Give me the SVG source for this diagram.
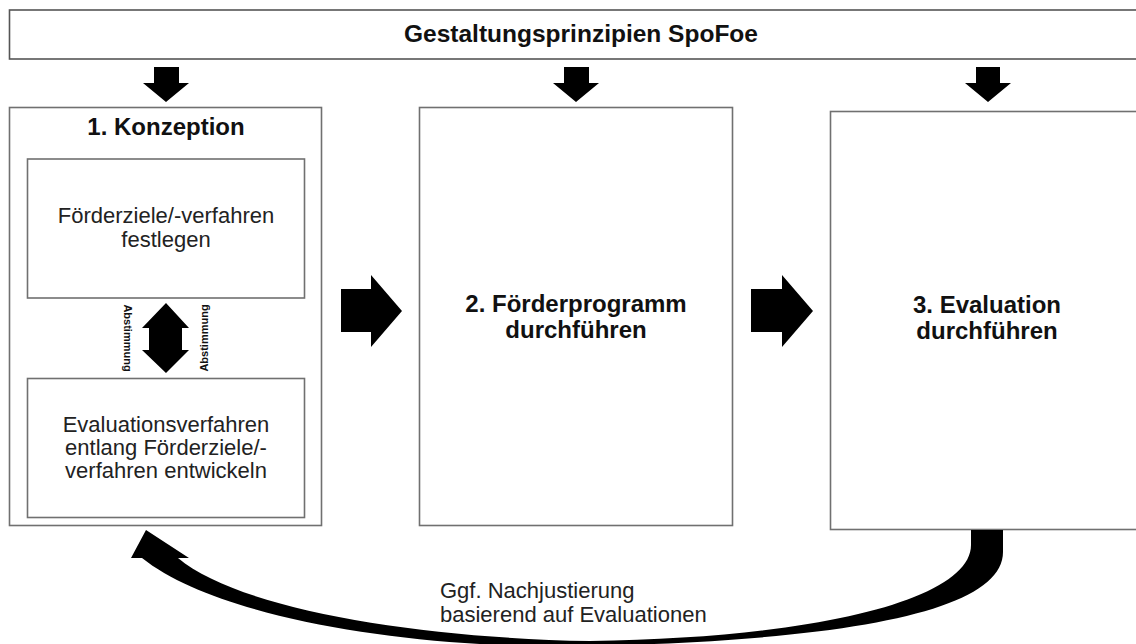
<svg xmlns="http://www.w3.org/2000/svg" width="1136" height="644" viewBox="0 0 1136 644">
<style>
.box{fill:#fff;stroke:#707070;stroke-width:1.6}
.bold{font-family:"Liberation Sans",Arial,sans-serif;font-weight:bold;fill:#111;text-anchor:middle}
.reg{font-family:"Liberation Sans",Arial,sans-serif;fill:#222}
.arr{fill:#000}
</style>
<rect width="1136" height="644" fill="#fff"/>
<g id="header">
<rect class="box" x="9.5" y="10" width="1140" height="49" style="stroke:#555"/>
<text class="bold" x="581" y="42" font-size="24.5">Gestaltungsprinzipien SpoFoe</text>
</g>
<g id="konzeption">
<rect class="box" x="9.5" y="107.5" width="312" height="418"/>
<text class="bold" x="166" y="135" font-size="24">1. Konzeption</text>
</g>
<g id="ziele">
<rect class="box" x="27.5" y="159" width="277" height="139"/>
<text class="reg" font-size="22" text-anchor="middle"><tspan x="166" y="223">Förderziele/-verfahren</tspan><tspan x="166" y="247">festlegen</tspan></text>
</g>
<g id="evalverfahren">
<rect class="box" x="27.5" y="378.5" width="277" height="139"/>
<text class="reg" font-size="22" text-anchor="middle"><tspan x="166" y="432">Evaluationsverfahren</tspan><tspan x="166" y="455">entlang Förderziele/-</tspan><tspan x="166" y="478">verfahren entwickeln</tspan></text>
</g>
<g id="foerderprogramm">
<rect class="box" x="419.5" y="107.5" width="313" height="418"/>
<text class="bold" font-size="24"><tspan x="576" y="312">2. Förderprogramm</tspan><tspan x="576" y="338">durchführen</tspan></text>
</g>
<g id="evaluation">
<rect class="box" x="830.5" y="111.5" width="313" height="418"/>
<text class="bold" font-size="24"><tspan x="987" y="313">3. Evaluation</tspan><tspan x="987" y="339">durchführen</tspan></text>
</g>
<g id="connectors">
<polygon class="arr" points="154,67 179,67 179,83 189,83 166,102 143,83 154,83"/>
<polygon class="arr" points="564,67 589,67 589,83 599,83 576,102 553,83 564,83"/>
<polygon class="arr" points="976,67 1000,67 1000,83 1011,83 988,102 965,83 976,83"/>
<polygon class="arr" points="341,289 371,289 371,275 402,311 371,347 371,332 341,332"/>
<polygon class="arr" points="751,289 782,289 782,275 813,311 782,347 782,332 751,332"/>
<polygon class="arr" points="166,303 189,328 182,328 182,350 189,350 166,373 142,350 149,350 149,328 142,328"/>
<text class="bold" font-size="11" transform="translate(124,338) rotate(90)" style="fill:#111">Abstimmung</text>
<text class="bold" font-size="11" transform="translate(208,338) rotate(-90)" style="fill:#111">Abstimmung</text>
<path class="arr" d="M1003,530 L1003,552 C1003,610 855,640 590,646 C420,650 220,620 142,558 L131,558 L146,530 L189,558 L178,558 C240,610 420,638 590,641 C815,638 971,600 971,545 L971,530 Z"/>
<text class="reg" font-size="22"><tspan x="440" y="598">Ggf. Nachjustierung</tspan><tspan x="440" y="622">basierend auf Evaluationen</tspan></text>
</g>
</svg>
